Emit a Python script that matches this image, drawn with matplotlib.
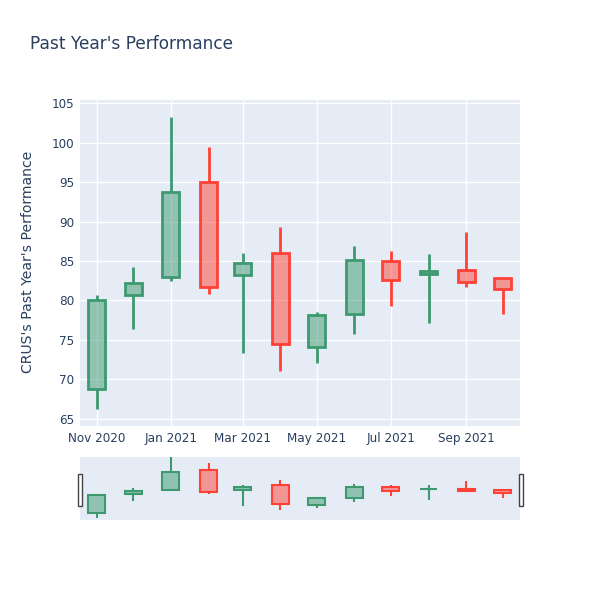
import matplotlib
matplotlib.use('Agg')
import matplotlib.pyplot as plt
import matplotlib.dates as mdates
import numpy as np
import pandas as pd

dates = pd.to_datetime(['2020-11-01', '2020-12-01', '2021-01-01', '2021-02-01',
                        '2021-03-01', '2021-04-01', '2021-05-01', '2021-06-01',
                        '2021-07-01', '2021-08-01', '2021-09-01', '2021-10-01'])
opens = [68.8, 80.7, 83.0, 95.0, 83.2, 86.0, 74.1, 78.3, 85.0, 83.4, 83.9, 82.85]
highs = [80.7, 84.3, 103.3, 99.4, 86.0, 89.35, 78.5, 86.9, 86.3, 85.85, 88.7, 83.0]
lows = [66.3, 76.35, 82.5, 80.8, 73.3, 71.1, 72.1, 75.8, 79.3, 77.1, 81.7, 78.25]
closes = [80.0, 82.2, 93.7, 81.75, 84.8, 74.45, 78.1, 85.1, 82.65, 83.7, 82.35, 81.4]

TXT = '#2a3f5f'
BG = '#E5ECF6'
UP = '#3D9970'
DOWN = '#FF4136'

def px(v):
    return v * 72 / 100.0

def draw_candles(ax, lw, wick_lw):
    for d, o, h, l, c in zip(dates, opens, highs, lows, closes):
        col = UP if c >= o else DOWN
        x = mdates.date2num(d)
        lo, hi = min(o, c), max(o, c)
        ax.vlines(x, l, lo, color=col, lw=wick_lw, zorder=3)
        ax.vlines(x, hi, h, color=col, lw=wick_lw, zorder=3)
        ax.bar(x, hi - lo, bottom=lo, width=14, color=col, alpha=0.5,
               linewidth=0, zorder=3)
        ax.bar(x, hi - lo, bottom=lo, width=14, facecolor='none',
               edgecolor=col, linewidth=lw, zorder=4)

fig = plt.figure(figsize=(6, 6), dpi=100)

xmin = mdates.date2num(pd.Timestamp('2020-10-18 06:00'))
xmax = mdates.date2num(pd.Timestamp('2021-10-15 06:00'))

ax = fig.add_axes([80/600, 174/600, 440/600, 326/600])
ax.set_facecolor(BG)
draw_candles(ax, 2, 2)
ax.set_xlim(xmin, xmax)
ax.set_ylim(64.1, 105.4)
ax.set_yticks(np.arange(65, 106, 5))
ax.xaxis.set_major_locator(mdates.MonthLocator(bymonth=[1, 3, 5, 7, 9, 11]))
ax.xaxis.set_major_formatter(mdates.DateFormatter('%b %Y'))
ax.grid(True, color='white', linewidth=1, zorder=0)
ax.set_axisbelow(True)
for s in ax.spines.values():
    s.set_visible(False)
ax.tick_params(length=0, labelsize=px(12), colors=TXT, pad=4)

# range slider
sl = fig.add_axes([80/600, 80/600, 440/600, 63/600])
sl.set_facecolor(BG)
draw_candles(sl, 1.5, 1.5)
sl.set_xlim(xmin, xmax)
sl.set_ylim(64.8, 103)
sl.set_xticks([])
sl.set_yticks([])
for s in sl.spines.values():
    s.set_visible(False)
for hx in [77.5, 518.5]:
    fig.patches.append(plt.Rectangle((hx/600, 94.5/600), 4/600, 32/600,
                                     transform=fig.transFigure, facecolor='white',
                                     edgecolor='#444444', linewidth=1, zorder=5))

fig.text(30/600, 1 - 44/600, "Past Year's Performance", fontsize=px(17),
         color=TXT, va='center', ha='left')
fig.text(28/600, 1 - 262/600, "CRUS's Past Year's Performance", fontsize=px(14),
         color=TXT, va='center', ha='center', rotation=90)

fig.savefig('out.png', dpi=100)
